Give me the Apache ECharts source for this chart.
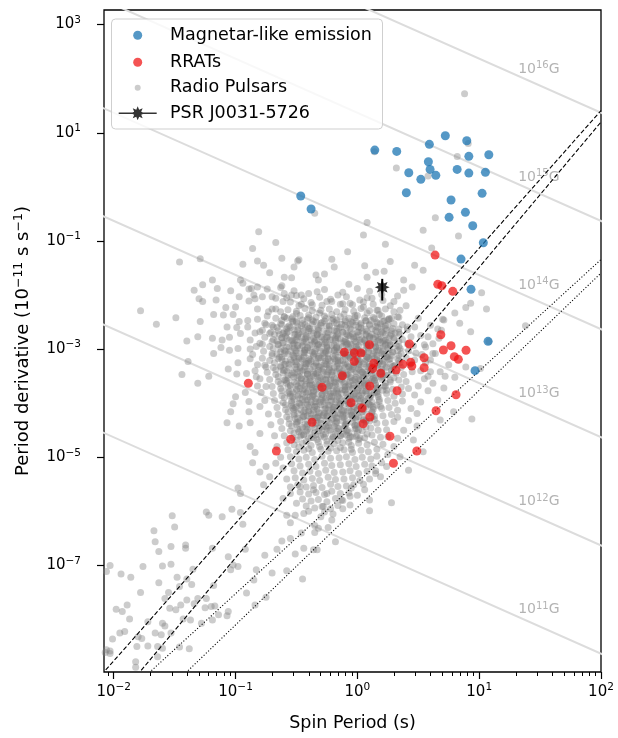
<!DOCTYPE html>
<html><head><meta charset="utf-8">
<script src="https://cdn.jsdelivr.net/npm/echarts@6/dist/echarts.min.js"></script>
<style>html,body{margin:0;padding:0;background:#fff}#c{width:618px;height:738px}</style>
</head><body><div id="c"></div>
<script>
// ---------------- data (log10 P [s], log10 Pdot [1e-11 s/s]) ----------------
const magnetarLog = [[0.143,0.680],[0.323,0.656],[0.591,0.786],[0.722,0.945],[0.898,0.852],[0.915,0.564],[1.079,0.593],[0.583,0.464],[0.597,0.323],[0.422,0.261],[0.521,0.139],[0.644,0.213],[0.819,0.323],[0.915,0.255],[1.051,0.268],[0.402,-0.109],[1.024,-0.120],[0.769,-0.244],[0.887,-0.471],[0.753,-0.564],[0.947,-0.719],[1.034,-1.033],[0.851,-1.335],[0.933,-1.895],[1.073,-2.856],[0.966,-3.399],[-0.465,-0.170],[-0.380,-0.410]];
const rratLog = [[-0.895,-3.632],[-0.665,-4.884],[-0.547,-4.667],[-0.372,-4.353],[-0.290,-3.706],[-0.123,-3.492],[-0.107,-3.059],[-0.025,-3.067],[0.030,-3.072],[-0.025,-3.226],[0.099,-2.919],[0.135,-3.262],[0.126,-3.362],[0.192,-3.447],[0.102,-3.682],[-0.052,-3.991],[0.039,-4.089],[0.102,-4.255],[0.047,-4.379],[0.268,-4.612],[0.296,-5.111],[0.326,-3.769],[0.318,-3.386],[0.373,-3.281],[0.438,-3.244],[0.447,-3.312],[0.548,-3.159],[0.548,-3.344],[0.427,-2.906],[0.685,-2.734],[0.706,-3.017],[0.769,-2.937],[0.796,-3.140],[0.829,-3.189],[0.892,-3.022],[0.810,-3.843],[0.646,-4.139],[0.488,-4.884],[0.638,-1.261],[0.660,-1.802],[0.693,-1.828],[0.783,-1.932]];
const radioOuterLog = [[-0.81,-0.83],[-0.67,-1.03],[-0.86,-1.14],[-1.46,-1.39],[-1.29,-1.33],[-0.94,-1.43],[-0.82,-1.37],[-0.77,-1.45],[-0.62,-1.32],[-0.49,-1.37],[-0.52,-1.48],[-0.72,-1.59],[-0.60,-1.67],[-0.54,-1.68],[-1.19,-1.72],[-0.96,-1.72],[-1.27,-1.81],[-1.34,-1.91],[-1.15,-1.88],[-1.04,-1.92],[-0.94,-1.78],[-0.89,-1.89],[-0.82,-1.85],[-0.74,-1.89],[-0.62,-1.83],[-0.60,-1.97],[-0.97,-2.03],[-0.89,-2.11],[-0.84,-2.07],[-0.78,-2.03],[-0.67,-2.06],[-0.50,-2.01],[-1.30,-2.07],[-1.27,-2.12],[-1.16,-2.09],[-1.78,-2.29],[-1.49,-2.42],[-1.65,-2.54],[-1.29,-2.49],[-1.18,-2.36],[-1.08,-2.23],[-1.00,-2.22],[-1.10,-2.37],[-1.02,-2.36],[-0.82,-2.26],[-0.73,-2.31],[-0.67,-2.26],[-0.60,-2.40],[-0.53,-2.40],[-0.97,-2.49],[-0.90,-2.47],[-0.82,-2.45],[-1.07,-2.59],[-0.99,-2.60],[-0.90,-2.59],[-0.75,-2.55],[-0.69,-2.59],[-1.40,-2.85],[-1.31,-2.77],[-1.19,-2.80],[-1.11,-2.83],[-1.05,-2.78],[-0.96,-2.71],[-0.88,-2.83],[-0.80,-2.68],[-0.72,-2.71],[-0.61,-2.71],[-1.12,-2.97],[-1.05,-3.02],[-0.98,-2.99],[-0.88,-3.00],[-0.80,-2.89],[-1.18,-3.08],[-1.39,-3.23],[-1.44,-3.47],[-1.31,-3.63],[-1.22,-3.50],[-1.06,-3.37],[-0.98,-3.25],[-0.88,-3.18],[-0.82,-3.29],[-0.75,-3.33],[-0.99,-3.46],[-0.91,-3.45],[-0.83,-3.51],[-0.92,-3.80],[-0.82,-3.68],[-0.75,-3.69],[-1.00,-3.88],[-1.02,-4.01],[-0.89,-3.97],[-1.04,-4.16],[-0.89,-4.16],[-1.07,-4.36],[-0.97,-4.42],[-0.88,-4.36],[-0.80,-4.06],
[-0.88,-4.80],[-0.84,-4.91],[-0.86,-5.10],[-0.80,-5.27],[-0.75,-5.17],[-0.67,-5.11],[-0.72,-5.36],[-0.77,-5.51],[-0.98,-5.57],[-0.96,-5.67],[-0.80,-4.56],[-1.24,-6.01],[-1.22,-6.07],[-1.03,-5.96],[-1.11,-6.10],[-0.96,-6.02],[-0.94,-6.24],[-1.52,-6.08],[-1.50,-6.29],[-1.67,-6.36],[-1.66,-6.56],[-1.53,-6.65],[-1.41,-6.62],[-1.41,-6.68],[-1.63,-6.74],[-1.19,-6.68],[-0.92,-6.70],[-1.06,-6.84],[-2.03,-7.00],[-2.06,-7.11],[-1.94,-7.16],[-1.86,-7.22],[-1.76,-7.02],[-1.60,-7.01],[-1.53,-6.98],[-1.48,-7.22],[-1.35,-7.07],[-1.40,-7.25],[-1.36,-7.35],[-1.18,-7.37],[-1.02,-6.99],[-0.98,-7.02],[-1.04,-7.08],[-0.83,-7.08],[-0.85,-7.27],[-0.76,-6.81],[-0.70,-7.14],[-0.62,-6.55],[-0.66,-6.70],[-0.55,-6.50],[-0.51,-6.79],[-1.63,-7.32],[-1.55,-7.50],[-1.58,-7.61],[-1.46,-7.39],[-1.78,-7.50],[-1.45,-7.73],[-1.49,-7.82],[-1.54,-7.79],[-1.40,-7.64],[-1.31,-7.61],[-1.24,-7.61],[-1.20,-7.76],[-1.17,-7.75],[-1.25,-7.78],[-1.34,-7.71],[-1.06,-7.85],[-1.14,-7.91],[-1.07,-7.93],[-1.19,-8.01],[-1.28,-8.07],[-1.37,-8.01],[-1.43,-7.99],[-1.60,-8.07],[-1.58,-8.12],[-1.53,-8.25],[-1.61,-8.28],[-1.72,-8.04],[-1.66,-8.25],[-0.91,-7.51],[-0.75,-7.59],[-0.84,-7.73],[-1.98,-7.81],[-1.93,-7.85],[-1.89,-7.73],[-1.87,-7.99],[-1.95,-8.25],[-1.91,-8.22],[-2.01,-8.36],[-1.80,-8.32],[-1.77,-8.35],[-1.81,-8.50],[-1.72,-8.49],[-1.64,-8.50],[-1.60,-8.53],[-1.46,-8.51],[-1.38,-8.54],[-1.82,-8.78],[-1.64,-8.69],[-2.06,-8.56],[-2.03,-8.58],[-2.07,-8.61],[-2.03,-8.63],[-1.82,-8.88],
[-0.35,-0.49],[0.08,-0.66],[0.05,-0.89],[0.23,-1.06],[-0.08,-1.20],[0.54,-0.80],[0.64,-0.57],[0.61,-1.13],[-0.48,-1.35],[-0.21,-1.34],[-0.19,-1.48],[0.27,-1.38],[0.47,-1.45],[0.54,-1.54],[0.06,-1.46],[-0.34,-1.63],[-0.27,-1.61],[-0.32,-1.72],[0.15,-1.58],[0.22,-1.56],[0.08,-1.67],[-0.07,-1.80],[0.00,-1.88],[0.38,-1.72],[0.45,-1.85],[0.38,-1.91],[0.33,-2.02],[0.40,-2.20],[0.08,-2.05],[0.16,-2.28],[0.05,-2.22],[-0.06,-2.15],[-0.16,-2.00],[-0.14,-2.17],[-0.25,-2.12],[-0.33,-1.94],[-0.46,-2.00],[-0.54,-2.00],[-0.63,-1.86],[-0.87,-1.88],[-0.85,-2.00],[-0.70,-2.03],[-0.61,-2.12],[-0.48,-2.20],[-0.37,-2.18],[0.21,-2.49],[0.28,-2.43],[0.35,-2.28],[0.70,-2.45],[0.66,-2.63],[0.24,-2.65],[0.34,-2.63],
[0.82,0.56],[0.32,0.35],[0.91,0.80],[0.14,0.65],[0.58,0.20],[0.83,-0.91],[1.02,-1.96],[0.93,-2.15],[0.89,-2.23],[1.06,-2.26],[0.80,-2.33],[0.84,-2.52],[0.93,-2.68],[1.38,-2.57],[0.71,-2.46],[0.69,-2.65],[0.58,-2.77],[0.50,-2.43],[0.41,-2.59],[0.26,-2.45],[0.34,-2.41],[0.56,-2.96],[0.62,-3.08],[0.89,-3.33],[1.01,-3.36],[1.08,-2.86],[0.72,-3.50],[0.80,-3.52],[0.88,1.72],
[0.28,-5.84],[0.10,-5.79],[0.10,-5.99],[-0.18,-6.56],[-0.33,-6.71],[-0.36,-6.71],[-0.44,-6.68],[-0.58,-7.10],[-0.45,-7.25],[-0.24,-6.30],[-0.21,-6.16],[-0.35,-6.26],[-0.32,-6.31],[-0.35,-6.39],[-0.46,-6.40],[-0.55,-6.21],[-0.58,-6.07],[-0.44,-6.04],[-0.51,-6.07],[-0.27,-6.01],[-0.28,-5.91],[-0.13,-5.79],[-0.06,-5.72],[0.00,-5.70],[0.06,-5.60],[-0.05,-5.57],[-0.25,-5.67],[-0.36,-5.60],[-0.47,-5.54],[-0.55,-5.67],[-0.61,-5.76],
[0.47,-2.59],[0.60,-2.56],[0.67,-2.80],[0.64,-3.08],[0.60,-3.42],[0.68,-3.42],[0.75,-3.29],[0.62,-3.63],[0.71,-3.72],[0.49,-4.19],[0.58,-3.77],[0.66,-3.94],[0.49,-4.42],[0.94,-4.29],[0.79,-4.16],[0.68,-4.31],[0.42,-5.24],[0.35,-4.99],[0.46,-4.68],[0.24,-5.17],[0.19,-5.36],[0.54,-4.90],
[-0.58,-2.05],[-0.44,-2.07],[-0.31,-2.04],[-0.22,-2.08],[-0.09,-2.03],[0.02,-2.09],[0.12,-2.06],[0.21,-2.10],[0.27,-2.20],[-0.40,-1.97],[-0.27,-1.90],[-0.12,-1.95],[0.10,-1.93],[0.20,-1.99],[-0.52,-1.92],[0.30,-2.12],
[0.52,-2.75],[0.55,-2.92],[0.53,-3.10],[0.56,-3.25],[0.52,-3.40],[0.55,-3.55],[0.50,-3.68],[0.47,-3.85],[0.52,-3.98],[0.44,-4.10],[0.42,-4.32],[0.38,-4.50],[0.33,-4.65],[0.30,-4.80],[0.25,-4.95],[0.20,-5.10],[0.15,-5.25],[0.62,-2.90],[0.60,-3.20],[0.58,-3.50],
[-0.84,-2.70],[-0.83,-2.95],[-0.86,-3.10],[-0.84,-3.40],[-0.80,-3.55],[-0.79,-3.80],[-0.76,-3.95],[-0.73,-4.20],[-0.71,-4.40],[-0.68,-4.60],[-0.66,-4.80],[-0.63,-5.00],[-0.61,-5.20],[-0.58,-5.40],[-0.55,-5.55],
[-0.50,-5.85],[-0.40,-6.00],[-0.30,-6.10],[-0.20,-6.05],[-0.12,-5.95],[-0.06,-5.88],[0.05,-5.50],[0.10,-5.40],[0.15,-5.30]];
const radioCoreLog = [
[-0.55,-2.13],[-0.46,-2.17],[-0.38,-2.14],[-0.29,-2.19],[-0.21,-2.12],[-0.12,-2.16],[-0.04,-2.18],[0.05,-2.13],[0.13,-2.17],
[-0.70,-2.26],[-0.63,-2.31],[-0.57,-2.27],[-0.50,-2.30],[-0.43,-2.25],[-0.37,-2.29],[-0.30,-2.28],[-0.23,-2.26],[-0.17,-2.31],[-0.10,-2.27],[-0.03,-2.30],[0.03,-2.25],[0.10,-2.29],[0.17,-2.28],[0.23,-2.26],[0.30,-2.31],
[-0.74,-2.39],[-0.67,-2.43],[-0.60,-2.40],[-0.54,-2.44],[-0.47,-2.38],[-0.40,-2.42],[-0.34,-2.41],[-0.27,-2.39],[-0.20,-2.44],[-0.14,-2.40],[-0.07,-2.43],[0.00,-2.38],[0.06,-2.42],[0.13,-2.41],[0.20,-2.39],[0.26,-2.44],[0.33,-2.40],
[-0.76,-2.52],[-0.70,-2.56],[-0.63,-2.53],[-0.56,-2.57],[-0.50,-2.51],[-0.43,-2.55],[-0.37,-2.54],[-0.30,-2.52],[-0.23,-2.57],[-0.17,-2.53],[-0.10,-2.56],[-0.04,-2.51],[0.03,-2.55],[0.10,-2.54],[0.16,-2.52],[0.23,-2.57],[0.30,-2.53],[0.37,-2.55],
[-0.78,-2.65],[-0.71,-2.69],[-0.65,-2.66],[-0.58,-2.70],[-0.52,-2.64],[-0.45,-2.68],[-0.38,-2.67],[-0.32,-2.65],[-0.25,-2.70],[-0.19,-2.66],[-0.12,-2.69],[-0.05,-2.64],[0.01,-2.68],[0.08,-2.67],[0.15,-2.65],[0.21,-2.70],[0.28,-2.66],[0.34,-2.69],[0.41,-2.64],
[-0.76,-2.78],[-0.69,-2.82],[-0.62,-2.79],[-0.56,-2.83],[-0.49,-2.77],[-0.43,-2.81],[-0.36,-2.80],[-0.29,-2.78],[-0.23,-2.83],[-0.16,-2.79],[-0.10,-2.82],[-0.03,-2.77],[0.04,-2.81],[0.10,-2.80],[0.17,-2.78],[0.23,-2.83],[0.30,-2.79],[0.37,-2.82],[0.44,-2.77],
[-0.78,-2.91],[-0.72,-2.95],[-0.65,-2.92],[-0.58,-2.96],[-0.52,-2.90],[-0.45,-2.94],[-0.39,-2.93],[-0.32,-2.91],[-0.25,-2.96],[-0.19,-2.92],[-0.12,-2.95],[-0.06,-2.90],[0.01,-2.94],[0.08,-2.93],[0.14,-2.91],[0.21,-2.96],[0.27,-2.92],[0.34,-2.95],[0.41,-2.90],[0.46,-2.94],
[-0.77,-3.04],[-0.70,-3.08],[-0.63,-3.05],[-0.57,-3.09],[-0.50,-3.03],[-0.44,-3.07],[-0.37,-3.06],[-0.30,-3.04],[-0.24,-3.09],[-0.17,-3.05],[-0.11,-3.08],[-0.04,-3.03],[0.03,-3.07],[0.09,-3.06],[0.16,-3.04],[0.22,-3.09],[0.29,-3.05],[0.36,-3.08],[0.42,-3.03],[0.48,-3.07],
[-0.78,-3.17],[-0.72,-3.21],[-0.65,-3.18],[-0.59,-3.22],[-0.52,-3.16],[-0.45,-3.20],[-0.39,-3.19],[-0.32,-3.17],[-0.26,-3.22],[-0.19,-3.18],[-0.12,-3.21],[-0.06,-3.16],[0.01,-3.20],[0.07,-3.19],[0.14,-3.17],[0.21,-3.22],[0.27,-3.18],[0.34,-3.21],[0.40,-3.16],[0.47,-3.20],
[-0.76,-3.30],[-0.69,-3.34],[-0.63,-3.31],[-0.56,-3.35],[-0.50,-3.29],[-0.43,-3.33],[-0.36,-3.32],[-0.30,-3.30],[-0.23,-3.35],[-0.17,-3.31],[-0.10,-3.34],[-0.03,-3.29],[0.03,-3.33],[0.10,-3.32],[0.16,-3.30],[0.23,-3.35],[0.30,-3.31],[0.36,-3.34],[0.43,-3.29],
[-0.74,-3.43],[-0.67,-3.47],[-0.61,-3.44],[-0.54,-3.48],[-0.47,-3.42],[-0.41,-3.46],[-0.34,-3.45],[-0.28,-3.43],[-0.21,-3.48],[-0.14,-3.44],[-0.08,-3.47],[-0.01,-3.42],[0.05,-3.46],[0.12,-3.45],[0.19,-3.43],[0.25,-3.48],[0.32,-3.44],[0.38,-3.47],[0.45,-3.42],
[-0.72,-3.56],[-0.65,-3.60],[-0.59,-3.57],[-0.52,-3.61],[-0.46,-3.55],[-0.39,-3.59],[-0.32,-3.58],[-0.26,-3.56],[-0.19,-3.61],[-0.13,-3.57],[-0.06,-3.60],[0.01,-3.55],[0.07,-3.59],[0.14,-3.58],[0.20,-3.56],[0.27,-3.61],[0.34,-3.57],[0.40,-3.60],
[-0.70,-3.69],[-0.63,-3.73],[-0.57,-3.70],[-0.50,-3.74],[-0.43,-3.68],[-0.37,-3.72],[-0.30,-3.71],[-0.24,-3.69],[-0.17,-3.74],[-0.10,-3.70],[-0.04,-3.73],[0.03,-3.68],[0.09,-3.72],[0.16,-3.71],[0.23,-3.69],[0.29,-3.74],[0.36,-3.70],[0.42,-3.73],
[-0.69,-3.82],[-0.62,-3.86],[-0.55,-3.83],[-0.49,-3.87],[-0.42,-3.81],[-0.36,-3.85],[-0.29,-3.84],[-0.22,-3.82],[-0.16,-3.87],[-0.09,-3.83],[-0.03,-3.86],[0.04,-3.81],[0.11,-3.85],[0.17,-3.84],[0.24,-3.82],[0.30,-3.87],[0.37,-3.83],
[-0.68,-3.95],[-0.61,-3.99],[-0.54,-3.96],[-0.48,-4.00],[-0.41,-3.94],[-0.35,-3.98],[-0.28,-3.97],[-0.21,-3.95],[-0.15,-4.00],[-0.08,-3.96],[-0.02,-3.99],[0.05,-3.94],[0.12,-3.98],[0.18,-3.97],[0.25,-3.95],[0.31,-4.00],[0.37,-3.96],
[-0.66,-4.08],[-0.59,-4.12],[-0.53,-4.09],[-0.46,-4.13],[-0.40,-4.07],[-0.33,-4.11],[-0.26,-4.10],[-0.20,-4.08],[-0.13,-4.13],[-0.07,-4.09],[0.00,-4.12],[0.07,-4.07],[0.13,-4.11],[0.20,-4.10],[0.26,-4.08],[0.33,-4.13],
[-0.65,-4.21],[-0.58,-4.25],[-0.52,-4.22],[-0.45,-4.26],[-0.38,-4.20],[-0.32,-4.24],[-0.25,-4.23],[-0.19,-4.21],[-0.12,-4.26],[-0.05,-4.22],[0.01,-4.25],[0.08,-4.20],[0.14,-4.24],[0.21,-4.23],[0.28,-4.21],[0.33,-4.26],
[-0.63,-4.34],[-0.56,-4.38],[-0.50,-4.35],[-0.43,-4.39],[-0.37,-4.33],[-0.30,-4.37],[-0.23,-4.36],[-0.17,-4.34],[-0.10,-4.39],[-0.04,-4.35],[0.03,-4.38],[0.10,-4.33],[0.16,-4.37],[0.23,-4.36],[0.30,-4.34],
[-0.62,-4.47],[-0.55,-4.51],[-0.49,-4.48],[-0.42,-4.52],[-0.35,-4.46],[-0.29,-4.50],[-0.22,-4.49],[-0.16,-4.47],[-0.09,-4.52],[-0.02,-4.48],[0.04,-4.51],[0.11,-4.46],[0.17,-4.50],[0.24,-4.49],
[-0.60,-4.60],[-0.53,-4.64],[-0.47,-4.61],[-0.40,-4.65],[-0.34,-4.59],[-0.27,-4.63],[-0.20,-4.62],[-0.14,-4.60],[-0.07,-4.65],[-0.01,-4.61],[0.06,-4.64],[0.12,-4.59],[0.19,-4.63],[0.25,-4.62],
[-0.58,-4.73],[-0.52,-4.77],[-0.45,-4.74],[-0.38,-4.78],[-0.32,-4.72],[-0.25,-4.76],[-0.19,-4.75],[-0.12,-4.73],[-0.05,-4.78],[0.01,-4.74],[0.08,-4.77],[0.14,-4.72],[0.21,-4.76],
[-0.57,-4.86],[-0.50,-4.90],[-0.44,-4.87],[-0.37,-4.91],[-0.30,-4.85],[-0.24,-4.89],[-0.17,-4.88],[-0.11,-4.86],[-0.04,-4.91],[0.03,-4.87],[0.09,-4.90],[0.16,-4.85],
[-0.55,-4.99],[-0.48,-5.03],[-0.42,-5.00],[-0.35,-5.04],[-0.29,-4.98],[-0.22,-5.02],[-0.15,-5.01],[-0.09,-4.99],[-0.02,-5.04],[0.04,-5.00],[0.11,-5.03],[0.16,-4.98],
[-0.54,-5.12],[-0.47,-5.16],[-0.40,-5.13],[-0.34,-5.17],[-0.27,-5.11],[-0.21,-5.15],[-0.14,-5.14],[-0.07,-5.12],[-0.01,-5.17],[0.06,-5.13],[0.12,-5.16],
[-0.52,-5.25],[-0.45,-5.29],[-0.39,-5.26],[-0.32,-5.30],[-0.26,-5.24],[-0.19,-5.28],[-0.12,-5.27],[-0.06,-5.25],[0.01,-5.30],[0.08,-5.26],
[-0.51,-5.38],[-0.44,-5.42],[-0.37,-5.39],[-0.31,-5.43],[-0.24,-5.37],[-0.18,-5.41],[-0.11,-5.40],[-0.04,-5.38],[0.02,-5.43],
[-0.49,-5.51],[-0.42,-5.55],[-0.36,-5.52],[-0.29,-5.56],[-0.22,-5.50],[-0.16,-5.54],[-0.09,-5.53],[-0.03,-5.51],
[-0.47,-5.64],[-0.40,-5.68],[-0.34,-5.65],[-0.27,-5.69],[-0.21,-5.63],[-0.14,-5.67],[-0.07,-5.66],
[-0.45,-5.77],[-0.38,-5.81],[-0.32,-5.78],[-0.25,-5.82],[-0.18,-5.76],[-0.12,-5.80],
[-0.42,-5.90],[-0.35,-5.94],[-0.29,-5.91],[-0.22,-5.95],[-0.16,-5.89],
[-0.50,-2.34],[-0.40,-2.37],[-0.31,-2.33],[-0.21,-2.36],[-0.11,-2.35],[-0.02,-2.38],[0.08,-2.33],[0.18,-2.36],
[-0.62,-2.47],[-0.53,-2.50],[-0.45,-2.46],[-0.36,-2.49],[-0.27,-2.48],[-0.19,-2.51],[-0.10,-2.46],[-0.01,-2.49],[0.07,-2.48],[0.16,-2.50],[0.25,-2.46],
[-0.66,-2.60],[-0.58,-2.63],[-0.49,-2.59],[-0.40,-2.62],[-0.32,-2.61],[-0.23,-2.64],[-0.14,-2.59],[-0.06,-2.62],[0.03,-2.61],[0.12,-2.63],[0.20,-2.59],[0.29,-2.62],
[-0.68,-2.73],[-0.59,-2.76],[-0.51,-2.72],[-0.42,-2.75],[-0.33,-2.74],[-0.25,-2.77],[-0.16,-2.72],[-0.07,-2.75],[0.01,-2.74],[0.10,-2.76],[0.19,-2.72],[0.27,-2.75],[0.35,-2.73],
[-0.70,-2.86],[-0.61,-2.89],[-0.53,-2.85],[-0.44,-2.88],[-0.35,-2.87],[-0.27,-2.90],[-0.18,-2.85],[-0.09,-2.88],[-0.01,-2.87],[0.08,-2.89],[0.17,-2.85],[0.25,-2.88],[0.34,-2.86],
[-0.69,-2.99],[-0.60,-3.02],[-0.52,-2.98],[-0.43,-3.01],[-0.34,-3.00],[-0.26,-3.03],[-0.17,-2.98],[-0.08,-3.01],[0.00,-3.00],[0.09,-3.02],[0.18,-2.98],[0.26,-3.01],[0.35,-2.99],
[-0.70,-3.12],[-0.62,-3.15],[-0.53,-3.11],[-0.44,-3.14],[-0.36,-3.13],[-0.27,-3.16],[-0.18,-3.11],[-0.10,-3.14],[-0.01,-3.13],[0.08,-3.15],[0.16,-3.11],[0.25,-3.14],[0.34,-3.12],
[-0.68,-3.25],[-0.60,-3.28],[-0.51,-3.24],[-0.42,-3.27],[-0.34,-3.26],[-0.25,-3.29],[-0.16,-3.24],[-0.08,-3.27],[0.01,-3.26],[0.10,-3.28],[0.18,-3.24],[0.27,-3.27],[0.35,-3.25],
[-0.67,-3.38],[-0.58,-3.41],[-0.50,-3.37],[-0.41,-3.40],[-0.32,-3.39],[-0.24,-3.42],[-0.15,-3.37],[-0.06,-3.40],[0.02,-3.39],[0.11,-3.41],[0.20,-3.37],[0.28,-3.40],
[-0.65,-3.51],[-0.57,-3.54],[-0.48,-3.50],[-0.39,-3.53],[-0.31,-3.52],[-0.22,-3.55],[-0.13,-3.50],[-0.05,-3.53],[0.04,-3.52],[0.13,-3.54],[0.21,-3.50],[0.30,-3.53],
[-0.63,-3.64],[-0.55,-3.67],[-0.46,-3.63],[-0.37,-3.66],[-0.29,-3.65],[-0.20,-3.68],[-0.11,-3.63],[-0.03,-3.66],[0.06,-3.65],[0.15,-3.67],[0.23,-3.63],
[-0.62,-3.77],[-0.53,-3.80],[-0.45,-3.76],[-0.36,-3.79],[-0.27,-3.78],[-0.19,-3.81],[-0.10,-3.76],[-0.01,-3.79],[0.07,-3.78],[0.16,-3.80],[0.24,-3.76],
[-0.60,-3.90],[-0.52,-3.93],[-0.43,-3.89],[-0.34,-3.92],[-0.26,-3.91],[-0.17,-3.94],[-0.08,-3.89],[0.00,-3.92],[0.09,-3.91],[0.18,-3.93],
[-0.59,-4.03],[-0.50,-4.06],[-0.41,-4.02],[-0.33,-4.05],[-0.24,-4.04],[-0.15,-4.07],[-0.07,-4.02],[0.02,-4.05],[0.11,-4.04],[0.19,-4.06],
[-0.57,-4.16],[-0.49,-4.19],[-0.40,-4.15],[-0.31,-4.18],[-0.23,-4.17],[-0.14,-4.20],[-0.05,-4.15],[0.03,-4.18],[0.12,-4.17],
[-0.56,-4.29],[-0.47,-4.32],[-0.38,-4.28],[-0.30,-4.31],[-0.21,-4.30],[-0.12,-4.33],[-0.04,-4.28],[0.05,-4.31],[0.14,-4.30],
[-0.54,-4.42],[-0.45,-4.45],[-0.37,-4.41],[-0.28,-4.44],[-0.19,-4.43],[-0.11,-4.46],[-0.02,-4.41],[0.07,-4.44],
[-0.52,-4.55],[-0.44,-4.58],[-0.35,-4.54],[-0.26,-4.57],[-0.18,-4.56],[-0.09,-4.59],[0.00,-4.54],[0.08,-4.57],
[-0.50,-4.68],[-0.42,-4.71],[-0.33,-4.67],[-0.25,-4.70],[-0.16,-4.69],[-0.07,-4.72],[0.01,-4.67],
[-0.48,-4.81],[-0.40,-4.84],[-0.31,-4.80],[-0.22,-4.83],[-0.14,-4.82],[-0.05,-4.85],
[-0.58,-2.43],[-0.50,-2.48],[-0.41,-2.45],[-0.34,-2.50],[-0.26,-2.44],[-0.17,-2.46],[-0.10,-2.49],[-0.02,-2.42],[0.07,-2.47],[0.14,-2.44],[0.22,-2.48],
[-0.62,-2.55],[-0.55,-2.60],[-0.46,-2.57],[-0.39,-2.62],[-0.30,-2.56],[-0.23,-2.58],[-0.15,-2.61],[-0.06,-2.54],[0.01,-2.59],[0.10,-2.56],[0.17,-2.60],[0.25,-2.55],
[-0.64,-2.73],[-0.57,-2.68],[-0.48,-2.71],[-0.40,-2.66],[-0.33,-2.72],[-0.24,-2.70],[-0.17,-2.67],[-0.08,-2.74],[0.00,-2.69],[0.07,-2.72],[0.16,-2.68],[0.23,-2.73],[0.31,-2.70],
[-0.66,-2.85],[-0.58,-2.80],[-0.51,-2.83],[-0.42,-2.78],[-0.35,-2.84],[-0.27,-2.82],[-0.18,-2.79],[-0.11,-2.86],[-0.03,-2.81],[0.06,-2.84],[0.13,-2.80],[0.21,-2.85],[0.30,-2.82],
[-0.65,-2.91],[-0.56,-2.96],[-0.49,-2.93],[-0.41,-2.98],[-0.32,-2.92],[-0.25,-2.94],[-0.17,-2.97],[-0.08,-2.90],[-0.01,-2.95],[0.08,-2.92],[0.15,-2.96],[0.23,-2.91],[0.32,-2.94],
[-0.66,-3.09],[-0.59,-3.04],[-0.50,-3.07],[-0.43,-3.02],[-0.35,-3.08],[-0.26,-3.06],[-0.19,-3.03],[-0.10,-3.10],[-0.03,-3.05],[0.05,-3.08],[0.14,-3.04],[0.21,-3.09],[0.29,-3.06],
[-0.64,-3.15],[-0.55,-3.20],[-0.48,-3.17],[-0.40,-3.22],[-0.31,-3.16],[-0.24,-3.18],[-0.16,-3.21],[-0.07,-3.14],[0.00,-3.19],[0.09,-3.16],[0.16,-3.20],[0.24,-3.15],[0.33,-3.18],
[-0.63,-3.33],[-0.56,-3.28],[-0.47,-3.31],[-0.40,-3.26],[-0.32,-3.32],[-0.23,-3.30],[-0.16,-3.27],[-0.07,-3.34],[0.01,-3.29],[0.08,-3.32],[0.17,-3.28],[0.24,-3.33],[0.31,-3.30],
[-0.61,-3.39],[-0.53,-3.44],[-0.45,-3.41],[-0.36,-3.46],[-0.29,-3.40],[-0.21,-3.42],[-0.12,-3.45],[-0.05,-3.38],[0.04,-3.43],[0.11,-3.40],[0.19,-3.44],[0.28,-3.39],
[-0.60,-3.57],[-0.52,-3.52],[-0.43,-3.55],[-0.36,-3.50],[-0.28,-3.56],[-0.19,-3.54],[-0.12,-3.51],[-0.04,-3.58],[0.05,-3.53],[0.12,-3.56],[0.20,-3.52],[0.27,-3.57],
[-0.58,-3.63],[-0.49,-3.68],[-0.42,-3.65],[-0.34,-3.70],[-0.25,-3.64],[-0.18,-3.66],[-0.10,-3.69],[-0.01,-3.62],[0.06,-3.67],[0.15,-3.64],[0.22,-3.68],
[-0.57,-3.81],[-0.50,-3.76],[-0.41,-3.79],[-0.34,-3.74],[-0.26,-3.80],[-0.17,-3.78],[-0.10,-3.75],[-0.02,-3.82],[0.07,-3.77],[0.14,-3.80],[0.21,-3.76],
[-0.55,-3.87],[-0.47,-3.92],[-0.39,-3.89],[-0.30,-3.94],[-0.23,-3.88],[-0.15,-3.90],[-0.06,-3.93],[0.01,-3.86],[0.10,-3.91],[0.17,-3.88],
[-0.54,-4.05],[-0.47,-4.00],[-0.38,-4.03],[-0.31,-3.98],[-0.23,-4.04],[-0.14,-4.02],[-0.07,-3.99],[0.02,-4.06],[0.09,-4.01],[0.16,-4.04],
[-0.52,-4.11],[-0.44,-4.16],[-0.36,-4.13],[-0.27,-4.18],[-0.20,-4.12],[-0.12,-4.14],[-0.03,-4.17],[0.04,-4.10],[0.12,-4.15],
[-0.51,-4.29],[-0.44,-4.24],[-0.35,-4.27],[-0.28,-4.22],[-0.20,-4.28],[-0.11,-4.26],[-0.04,-4.23],[0.05,-4.30],[0.12,-4.25],
[-0.49,-4.35],[-0.41,-4.40],[-0.33,-4.37],[-0.24,-4.42],[-0.17,-4.36],[-0.09,-4.38],[0.00,-4.41],[0.07,-4.34],
[-0.48,-4.53],[-0.41,-4.48],[-0.32,-4.51],[-0.25,-4.46],[-0.17,-4.52],[-0.08,-4.50],[-0.01,-4.47],
[-0.46,-4.59],[-0.38,-4.64],[-0.30,-4.61],[-0.21,-4.66],[-0.14,-4.60],[-0.06,-4.62],[0.02,-4.65]];
const radioInnerLog = [
[-0.53,-2.48],[-0.45,-2.53],[-0.37,-2.46],[-0.29,-2.51],[-0.21,-2.47],[-0.13,-2.54],[-0.05,-2.49],[0.03,-2.52],[0.11,-2.47],[0.19,-2.53],
[-0.57,-2.59],[-0.49,-2.64],[-0.41,-2.58],[-0.33,-2.63],[-0.25,-2.57],[-0.17,-2.62],[-0.09,-2.61],[-0.01,-2.56],[0.07,-2.63],[0.15,-2.58],[0.23,-2.62],
[-0.60,-2.68],[-0.52,-2.73],[-0.44,-2.66],[-0.36,-2.71],[-0.28,-2.67],[-0.20,-2.74],[-0.12,-2.69],[-0.04,-2.72],[0.04,-2.67],[0.12,-2.73],[0.20,-2.68],[0.28,-2.72],
[-0.62,-2.79],[-0.54,-2.84],[-0.46,-2.78],[-0.38,-2.83],[-0.30,-2.77],[-0.22,-2.82],[-0.14,-2.81],[-0.06,-2.76],[0.02,-2.83],[0.10,-2.78],[0.18,-2.82],[0.26,-2.79],
[-0.61,-2.88],[-0.53,-2.93],[-0.45,-2.86],[-0.37,-2.91],[-0.29,-2.87],[-0.21,-2.94],[-0.13,-2.89],[-0.05,-2.92],[0.03,-2.87],[0.11,-2.93],[0.19,-2.88],[0.27,-2.92],
[-0.63,-2.99],[-0.55,-3.04],[-0.47,-2.98],[-0.39,-3.03],[-0.31,-2.97],[-0.23,-3.02],[-0.15,-3.01],[-0.07,-2.96],[0.01,-3.03],[0.09,-2.98],[0.17,-3.02],[0.25,-2.99],[0.33,-3.03],
[-0.60,-3.08],[-0.52,-3.13],[-0.44,-3.06],[-0.36,-3.11],[-0.28,-3.07],[-0.20,-3.14],[-0.12,-3.09],[-0.04,-3.12],[0.04,-3.07],[0.12,-3.13],[0.20,-3.08],[0.28,-3.12],
[-0.62,-3.19],[-0.54,-3.24],[-0.46,-3.18],[-0.38,-3.23],[-0.30,-3.17],[-0.22,-3.22],[-0.14,-3.21],[-0.06,-3.16],[0.02,-3.23],[0.10,-3.18],[0.18,-3.22],[0.26,-3.19],
[-0.59,-3.28],[-0.51,-3.33],[-0.43,-3.26],[-0.35,-3.31],[-0.27,-3.27],[-0.19,-3.34],[-0.11,-3.29],[-0.03,-3.32],[0.05,-3.27],[0.13,-3.33],[0.21,-3.28],[0.29,-3.32],
[-0.60,-3.39],[-0.52,-3.44],[-0.44,-3.38],[-0.36,-3.43],[-0.28,-3.37],[-0.20,-3.42],[-0.12,-3.41],[-0.04,-3.36],[0.04,-3.43],[0.12,-3.38],[0.20,-3.42],
[-0.57,-3.48],[-0.49,-3.53],[-0.41,-3.46],[-0.33,-3.51],[-0.25,-3.47],[-0.17,-3.54],[-0.09,-3.49],[-0.01,-3.52],[0.07,-3.47],[0.15,-3.53],[0.23,-3.48],
[-0.58,-3.59],[-0.50,-3.64],[-0.42,-3.58],[-0.34,-3.63],[-0.26,-3.57],[-0.18,-3.62],[-0.10,-3.61],[-0.02,-3.56],[0.06,-3.63],[0.14,-3.58],
[-0.55,-3.68],[-0.47,-3.73],[-0.39,-3.66],[-0.31,-3.71],[-0.23,-3.67],[-0.15,-3.74],[-0.07,-3.69],[0.01,-3.72],[0.09,-3.67],[0.17,-3.73],
[-0.56,-3.79],[-0.48,-3.84],[-0.40,-3.78],[-0.32,-3.83],[-0.24,-3.77],[-0.16,-3.82],[-0.08,-3.81],[0.00,-3.76],[0.08,-3.83],[0.16,-3.78],
[-0.53,-3.88],[-0.45,-3.93],[-0.37,-3.86],[-0.29,-3.91],[-0.21,-3.87],[-0.13,-3.94],[-0.05,-3.89],[0.03,-3.92],[0.11,-3.87],
[-0.54,-3.99],[-0.46,-4.04],[-0.38,-3.98],[-0.30,-4.03],[-0.22,-3.97],[-0.14,-4.02],[-0.06,-4.01],[0.02,-3.96],[0.10,-4.03],
[-0.51,-4.08],[-0.43,-4.13],[-0.35,-4.06],[-0.27,-4.11],[-0.19,-4.07],[-0.11,-4.14],[-0.03,-4.09],[0.05,-4.12],[0.13,-4.07],
[-0.52,-4.19],[-0.44,-4.24],[-0.36,-4.18],[-0.28,-4.23],[-0.20,-4.17],[-0.12,-4.22],[-0.04,-4.21],[0.04,-4.16],
[-0.49,-4.28],[-0.41,-4.33],[-0.33,-4.26],[-0.25,-4.31],[-0.17,-4.27],[-0.09,-4.34],[-0.01,-4.29],[0.07,-4.32],
[-0.50,-4.39],[-0.42,-4.44],[-0.34,-4.38],[-0.26,-4.43],[-0.18,-4.37],[-0.10,-4.42],[-0.02,-4.41],
[-0.47,-4.48],[-0.39,-4.53],[-0.31,-4.46],[-0.23,-4.51],[-0.15,-4.47],[-0.07,-4.54],[0.01,-4.49],
[-0.44,-4.59],[-0.36,-4.64],[-0.28,-4.58],[-0.20,-4.63],[-0.12,-4.57],[-0.04,-4.62],
[-0.49,-2.74],[-0.41,-2.77],[-0.33,-2.73],[-0.25,-2.78],[-0.17,-2.75],[-0.09,-2.72],[-0.01,-2.77],[0.07,-2.74],[0.15,-2.76],
[-0.50,-2.83],[-0.42,-2.87],[-0.34,-2.84],[-0.26,-2.88],[-0.18,-2.82],[-0.10,-2.86],[-0.02,-2.85],[0.06,-2.83],[0.14,-2.88],[0.22,-2.84],
[-0.49,-2.94],[-0.41,-2.97],[-0.33,-2.93],[-0.25,-2.98],[-0.17,-2.95],[-0.09,-2.92],[-0.01,-2.97],[0.07,-2.94],[0.15,-2.96],[0.23,-2.93],
[-0.51,-3.03],[-0.43,-3.07],[-0.35,-3.04],[-0.27,-3.08],[-0.19,-3.02],[-0.11,-3.06],[-0.03,-3.05],[0.05,-3.03],[0.13,-3.08],[0.21,-3.04],
[-0.48,-3.14],[-0.40,-3.17],[-0.32,-3.13],[-0.24,-3.18],[-0.16,-3.15],[-0.08,-3.12],[0.00,-3.17],[0.08,-3.14],[0.16,-3.16],[0.24,-3.13],
[-0.50,-3.23],[-0.42,-3.27],[-0.34,-3.24],[-0.26,-3.28],[-0.18,-3.22],[-0.10,-3.26],[-0.02,-3.25],[0.06,-3.23],[0.14,-3.28],[0.22,-3.24],
[-0.47,-3.34],[-0.39,-3.37],[-0.31,-3.33],[-0.23,-3.38],[-0.15,-3.35],[-0.07,-3.32],[0.01,-3.37],[0.09,-3.34],[0.17,-3.36],
[-0.49,-3.43],[-0.41,-3.47],[-0.33,-3.44],[-0.25,-3.48],[-0.17,-3.42],[-0.09,-3.46],[-0.01,-3.45],[0.07,-3.43],[0.15,-3.48],
[-0.46,-3.54],[-0.38,-3.57],[-0.30,-3.53],[-0.22,-3.58],[-0.14,-3.55],[-0.06,-3.52],[0.02,-3.57],[0.10,-3.54],
[-0.47,-3.63],[-0.39,-3.67],[-0.31,-3.64],[-0.23,-3.68],[-0.15,-3.62],[-0.07,-3.66],[0.01,-3.65],[0.09,-3.63],
[-0.44,-3.74],[-0.36,-3.77],[-0.28,-3.73],[-0.20,-3.78],[-0.12,-3.75],[-0.04,-3.72],[0.04,-3.77],[0.12,-3.74],
[-0.45,-3.83],[-0.37,-3.87],[-0.29,-3.84],[-0.21,-3.88],[-0.13,-3.82],[-0.05,-3.86],[0.03,-3.85],
[-0.42,-3.94],[-0.34,-3.97],[-0.26,-3.93],[-0.18,-3.98],[-0.10,-3.95],[-0.02,-3.92],[0.06,-3.97],
[-0.43,-4.03],[-0.35,-4.07],[-0.27,-4.04],[-0.19,-4.08],[-0.11,-4.02],[-0.03,-4.06],[0.05,-4.05],
[-0.40,-4.14],[-0.32,-4.17],[-0.24,-4.13],[-0.16,-4.18],[-0.08,-4.15],[0.00,-4.12],
[-0.41,-4.23],[-0.33,-4.27],[-0.25,-4.24],[-0.17,-4.28],[-0.09,-4.22],[-0.01,-4.26]];
// PSR J0031-5726 (P in s, Pdot in 1e-11 s/s)
const psrP = 1.60, psrPdot = 0.0139, psrPdotErr = 0.006;
// magnetic field lines: log10 P + log10 Pdot = 2 log10 B + bConst
const bFieldExp = [11, 12, 13, 14, 15, 16];
const bConst = -28.63;
// death lines, two points each (log10 P, log10 Pdot)
const deathDashed = [[[-2.066, -8.932], [2.0, 1.41]], [[-1.775, -8.94], [2.0, 1.198]]];
const deathDotted = [[[-1.691, -8.945], [2.0, -1.344]], [[-1.39, -8.945], [2.0, -1.593]]];
const xTickExp = [-2, -1, 0, 1, 2];
const yTickExp = [-7, -5, -3, -1, 1, 3];

// ---------------- chart ----------------
const FONT = 'DejaVu Sans';
const X_MIN = -2.08, X_MAX = 2.0, Y_MIN = -8.97, Y_MAX = 3.27;
function supTxt(n) { return (n < 0 ? '\u2212' : '') + Math.abs(n); }
function starPath(cx, cy, R, r) {
  let s = '';
  for (let i = 0; i < 16; i++) {
    const a = i * Math.PI / 8 - Math.PI / 2, rad = i % 2 ? r : R;
    s += (i ? 'L' : 'M') + (cx + rad * Math.cos(a)).toFixed(2) + ' ' + (cy + rad * Math.sin(a)).toFixed(2);
  }
  return s + 'Z';
}
const starSymbol = 'path://' + starPath(10, 10, 10, 5.4);
const psrIcon = 'path://M0 6.2L38 6.2L38 7.8L0 7.8Z' + starPath(19, 7, 7, 3.8);
const minorTicks = [];
for (let e = -3; e <= 1; e++) for (let k = 2; k <= 9; k++) {
  const v = e + Math.log10(k);
  if (v > X_MIN && v < X_MAX) minorTicks.push(v);
}
const tickRich = {
  b: { fontSize: 15, lineHeight: 20, fontFamily: FONT, color: '#000' },
  s: { fontSize: 10.5, lineHeight: 10, verticalAlign: 'top', fontFamily: FONT, color: '#000' }
};
const series = [];
bFieldExp.forEach(b => {
  const c = 2 * b + bConst;
  series.push({ type: 'line', name: 'B' + b, data: [[-2.3, c + 2.3], [2.2, c - 2.2]], symbol: 'none', silent: true,
    lineStyle: { color: '#dcdcdc', width: 2 }, z: 1, clip: true });
});
series.push({ type: 'scatter', name: 'Blabels', silent: true, symbolSize: 1, itemStyle: { color: 'rgba(0,0,0,0)' }, z: 1,
  data: bFieldExp.map(b => [1.49, 2 * b + bConst - 1.49 + 0.30, b]),
  label: { show: true, position: 'inside', formatter: p => '{b|10}{s|' + p.value[2] + '}{b|G}',
    rich: { b: { fontSize: 14, lineHeight: 17, color: '#a0a0a0', fontFamily: FONT },
            s: { fontSize: 10, lineHeight: 9, verticalAlign: 'top', color: '#a0a0a0', fontFamily: FONT } } } });
series.push({ type: 'scatter', name: 'Radio Pulsars', data: radioOuterLog.concat(radioCoreLog, radioInnerLog), symbolSize: 7,
  itemStyle: { color: 'rgba(128,128,128,0.5)' }, z: 2, silent: true });
deathDashed.forEach((d, i) => series.push({ type: 'line', name: 'dd' + i, data: d, symbol: 'none', silent: true, z: 3,
  lineStyle: { color: '#000', width: 1.1, type: [4.5, 2.2] } }));
deathDotted.forEach((d, i) => series.push({ type: 'line', name: 'dt' + i, data: d, symbol: 'none', silent: true, z: 3,
  lineStyle: { color: '#000', width: 1.1, type: [1.1, 2] } }));
series.push({ type: 'scatter', name: 'Magnetar-like emission', data: magnetarLog, symbolSize: 9,
  itemStyle: { color: 'rgba(31,119,180,0.95)' }, z: 4, silent: true });
series.push({ type: 'scatter', name: 'RRATs', data: rratLog, symbolSize: 9,
  itemStyle: { color: 'rgba(240,16,16,0.9)' }, z: 4, silent: true });
series.push({ type: 'line', name: 'psrErr', symbol: 'none', silent: true, z: 5,
  data: [[Math.log10(psrP), Math.log10(psrPdot - psrPdotErr)], [Math.log10(psrP), Math.log10(psrPdot + psrPdotErr)]],
  lineStyle: { color: '#000', width: 2 } });
series.push({ type: 'scatter', name: 'PSR J0031-5726', data: [[Math.log10(psrP), Math.log10(psrPdot)]],
  symbol: starSymbol, symbolSize: 15, itemStyle: { color: '#000' }, z: 6, silent: true });

const LEG_FS = 17.5;
const legendRows = [
  { name: 'Magnetar-like emission', icon: 'circle', h: 9, w: 9, cy: 35 },
  { name: 'RRATs', icon: 'circle', h: 9, w: 9, cy: 62 },
  { name: 'Radio Pulsars', icon: 'circle', h: 6, w: 6, cy: 87.5 },
  { name: 'PSR J0031-5726', icon: psrIcon, h: 14, w: 38, cy: 113 }
];
const LEG_ICON_CX = 137.7, LEG_TEXT_X = 170;
const LEG_W = 2 * (LEG_TEXT_X - 5 - LEG_ICON_CX);
const chart = echarts.init(document.getElementById('c'), null, { renderer: 'canvas' });
chart.setOption({
  animation: false,
  backgroundColor: '#fff',
  grid: { left: 104, top: 10, width: 497, height: 662, show: true, borderColor: '#000', borderWidth: 1.3, backgroundColor: 'transparent' },
  xAxis: [{
    type: 'value', min: X_MIN, max: X_MAX, position: 'bottom',
    axisLine: { show: false, onZero: false }, splitLine: { show: false },
    axisTick: { show: true, customValues: xTickExp, length: 7, lineStyle: { color: '#000', width: 1.2 } },
    axisLabel: { customValues: xTickExp, margin: 10, formatter: v => '{b|10}{s|' + supTxt(Math.round(v)) + '}', rich: tickRich },
    name: 'Spin Period (s)', nameLocation: 'middle', nameGap: 42,
    nameTextStyle: { fontSize: 17.5, fontFamily: FONT, color: '#000' }
  }, {
    type: 'value', min: X_MIN, max: X_MAX, position: 'bottom', gridIndex: 0,
    axisLine: { show: false, onZero: false }, splitLine: { show: false }, axisLabel: { show: false },
    axisTick: { show: true, customValues: minorTicks, length: 4, lineStyle: { color: '#000', width: 1 } }
  }],
  yAxis: {
    type: 'value', min: Y_MIN, max: Y_MAX,
    axisLine: { show: false, onZero: false }, splitLine: { show: false },
    axisTick: { show: true, customValues: yTickExp, length: 7, lineStyle: { color: '#000', width: 1.2 } },
    axisLabel: { customValues: yTickExp, margin: 23, formatter: v => '{b|10}{s|' + supTxt(Math.round(v)) + '}', rich: tickRich },
    name: '{b|Period derivative (10}{s|\u221211}{b| s s}{s|\u22121}{b|)}', nameLocation: 'middle', nameGap: 70,
    nameTextStyle: { rich: {
      b: { fontSize: 18, lineHeight: 22, fontFamily: FONT, color: '#000' },
      s: { fontSize: 12.5, lineHeight: 12, verticalAlign: 'top', fontFamily: FONT, color: '#000' } } }
  },
  legend: legendRows.map(r => ({
    data: [{ name: r.name, icon: r.icon }], orient: 'vertical',
    left: LEG_ICON_CX - r.w / 2, top: r.cy - Math.max(r.h, LEG_FS) / 2,
    itemWidth: LEG_W, itemHeight: r.h, padding: 0, itemGap: 0, selectedMode: false, z: 60,
    textStyle: { fontSize: LEG_FS, fontFamily: FONT, color: '#000' }
  })),
  graphic: [{ type: 'rect', z: 50, silent: true, shape: { x: 111.5, y: 19, width: 271, height: 110, r: 4 },
    style: { fill: 'rgba(255,255,255,0.8)', stroke: '#cfcfcf', lineWidth: 1 } }],
  series: series
});
</script></body></html>
